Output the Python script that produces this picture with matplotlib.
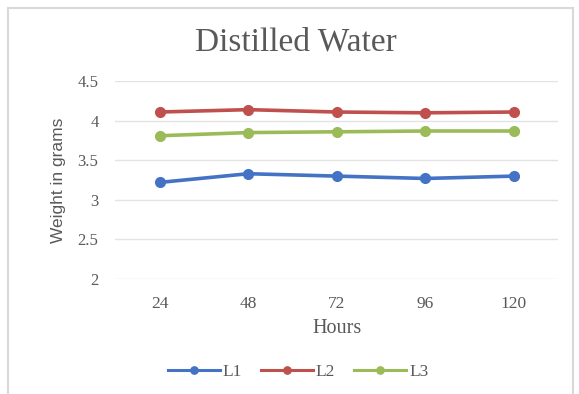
import matplotlib
matplotlib.use("Agg")
import matplotlib.pyplot as plt
from matplotlib.patches import Rectangle

hours = ["24", "48", "72", "96", "120"]
l1 = [3.22, 3.33, 3.30, 3.27, 3.30]
l2 = [4.11, 4.14, 4.11, 4.10, 4.11]
l3 = [3.81, 3.85, 3.86, 3.87, 3.87]

series = [("L1", l1, "#4472c4"), ("L2", l2, "#c0504d"), ("L3", l3, "#9bbb59")]

fig = plt.figure(figsize=(5.79, 3.94), dpi=100)
ax = fig.add_axes([0.199, 0.292, 0.765, 0.502])

x = list(range(len(hours)))
for name, vals, col in series:
    ax.plot(x, vals, color=col, lw=2.6, marker="o", ms=7, label=name)

ax.set_xlim(-0.5, len(hours) - 0.5)
ax.set_ylim(2, 4.5)
ax.set_yticks([2, 2.5, 3, 3.5, 4, 4.5])
ax.set_yticklabels(["2", "2.5", "3", "3.5", "4", "4.5"])
ax.set_xticks(x)
ax.set_xticklabels(hours)
ax.grid(axis="y", color="#e3e3e3", lw=1)
ax.set_axisbelow(True)
for s in ax.spines.values():
    s.set_visible(False)
ax.tick_params(axis="y", length=0, labelsize=12, colors="#595959", pad=12)
ax.tick_params(axis="x", length=0, labelsize=12.5, colors="#595959", pad=12)
for lab in ax.get_xticklabels() + ax.get_yticklabels():
    lab.set_family("Liberation Serif")

ax.set_xlabel("Hours", family="Liberation Serif", fontsize=14.5, color="#595959", labelpad=5)
ax.set_ylabel("Weight in grams", family="Liberation Sans", fontsize=12.5, color="#595959", labelpad=8)

fig.text(0.511, 0.893, "Distilled Water", family="Liberation Serif", fontsize=24,
         color="#595959", ha="center", va="center")

leg = fig.legend(loc="center", bbox_to_anchor=(0.515, 0.056), ncol=3, frameon=False,
                 prop={"family": "Liberation Serif", "size": 12.5}, handlelength=3.0,
                 columnspacing=1.1, handletextpad=0.15, markerscale=0.75)
for line in leg.get_lines():
    line.set_linewidth(2.2)
for t in leg.get_texts():
    t.set_color("#595959")

fig.patches.append(Rectangle((8 / 579, -0.05), 565 / 579, 1 - 8 / 394 + 0.05,
                             transform=fig.transFigure, fill=False,
                             edgecolor="#d9d9d9", lw=1.5))

fig.savefig("out.png", dpi=100)
